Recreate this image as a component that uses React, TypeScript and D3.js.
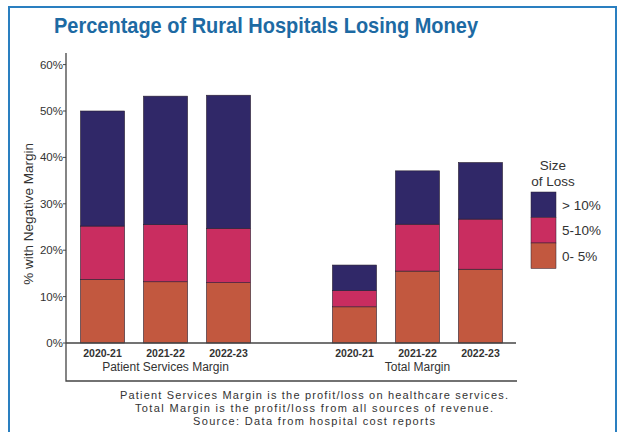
import React from "react";
import * as d3 from "d3";

// Share of rural hospitals with a negative margin, split by size of loss (%)
const groups = ["Patient Services Margin", "Total Margin"];
const years = ["2020-21", "2021-22", "2022-23"];
const lossBands = ["0- 5%", "5-10%", "> 10%"];

const patientServices0to5 = [13.7, 13.2, 13.0];
const patientServices5to10 = [11.5, 12.3, 11.7];
const patientServicesOver10 = [24.8, 27.7, 28.7];

const total0to5 = [7.8, 15.5, 15.9];
const total5to10 = [3.5, 10.1, 10.8];
const totalOver10 = [5.5, 11.5, 12.2];

const yTicks = [0, 10, 20, 30, 40, 50, 60];

const footnotes = [
  "Patient Services Margin is the profit/loss on healthcare services.",
  "Total Margin is the profit/loss from all sources of revenue.",
  "Source:  Data from hospital cost reports",
];

const bandColors: Record<string, string> = {
  "0- 5%": "#c2583f",
  "5-10%": "#c92d60",
  "> 10%": "#302868",
};

type Row = { group: string; year: string; [k: string]: string | number };

const rows: Row[] = [];
groups.forEach((g, gi) => {
  const a = gi === 0 ? patientServices0to5 : total0to5;
  const b = gi === 0 ? patientServices5to10 : total5to10;
  const c = gi === 0 ? patientServicesOver10 : totalOver10;
  years.forEach((y, i) => {
    rows.push({ group: g, year: y, "0- 5%": a[i], "5-10%": b[i], "> 10%": c[i] });
  });
});

const W = 619;
const H = 432;
const axisLeft = 66;
const axisRight = 516;
const baseY = 343;
const topY = 64.6;

export default function App() {
  const y = d3.scaleLinear().domain([0, 60]).range([baseY, topY]);
  const xGroup = d3
    .scaleBand<string>()
    .domain(groups)
    .range([axisLeft, axisRight + 1])
    .paddingInner(0.25)
    .paddingOuter(0.02);
  const xYear = d3
    .scaleBand<string>()
    .domain(years)
    .range([0, xGroup.bandwidth()])
    .paddingInner(0.3)
    .paddingOuter(0.15);

  const stack = d3.stack<Row>().keys(lossBands).value((d, k) => d[k] as number);
  const series = stack(rows);

  const font = "'Liberation Sans', Arial, sans-serif";

  return (
    <svg
      width={W}
      height={H}
      style={{ position: "absolute", left: 0, top: 0, background: "#fff" }}
      fontFamily={font}
    >
      {/* outer blue frame */}
      <path d="M9,440 V7 H616 V440" fill="none" stroke="#2a7fc0" strokeWidth={2} />

      <text
        x={266}
        y={33}
        textAnchor="middle"
        fontSize={22}
        fontWeight="bold"
        fill="#1d6aa3"
        textLength={424}
        lengthAdjust="spacingAndGlyphs"
      >
        Percentage of Rural Hospitals Losing Money
      </text>

      {/* bars */}
      {series.map((s) => (
        <g key={s.key} fill={bandColors[s.key]}>
          {s.map((d, i) => {
            const r = d.data;
            const x0 = (xGroup(r.group) ?? 0) + (xYear(r.year) ?? 0);
            return (
              <rect
                key={i}
                x={x0}
                y={y(d[1])}
                width={xYear.bandwidth()}
                height={y(d[0]) - y(d[1])}
                stroke="#2a2030"
                strokeWidth={0.6}
              />
            );
          })}
        </g>
      ))}

      {/* axis frame */}
      <path
        d={`M${axisLeft},53 V381 H${axisRight + 1}`}
        fill="none"
        stroke="#444"
        strokeWidth={1.3}
      />
      <line x1={axisLeft} x2={axisRight} y1={baseY} y2={baseY} stroke="#444" strokeWidth={1.3} />

      {yTicks.map((t) => (
        <g key={t}>
          <line x1={axisLeft - 3} x2={axisLeft} y1={y(t)} y2={y(t)} stroke="#444" />
          <text x={axisLeft - 3} y={y(t) + 4} textAnchor="end" fontSize={11.5} fill="#333">
            {t}%
          </text>
        </g>
      ))}

      <text
        transform={`translate(33,${(y(0) + y(60)) / 2 + 10}) rotate(-90)`}
        textAnchor="middle"
        fontSize={13.5}
        fill="#333"
      >
        % with Negative Margin
      </text>

      {rows.map((r, i) => (
        <text
          key={i}
          x={(xGroup(r.group) ?? 0) + (xYear(r.year) ?? 0) + xYear.bandwidth() / 2}
          y={357}
          textAnchor="middle"
          fontSize={10.5}
          fontWeight="bold"
          fill="#333"
        >
          {r.year}
        </text>
      ))}

      {groups.map((g) => (
        <text
          key={g}
          x={(xGroup(g) ?? 0) + xGroup.bandwidth() / 2}
          y={371}
          textAnchor="middle"
          fontSize={12}
          fill="#333"
        >
          {g}
        </text>
      ))}

      {/* legend */}
      <text x={553} y={170} textAnchor="middle" fontSize={13.5} fill="#333">
        Size
      </text>
      <text x={553} y={186} textAnchor="middle" fontSize={13.5} fill="#333">
        of Loss
      </text>
      {[...lossBands].reverse().map((b, i) => (
        <g key={b}>
          <rect
            x={531}
            y={192 + i * 25.5}
            width={25}
            height={25.5}
            fill={bandColors[b]}
            stroke="#2a2030"
            strokeWidth={0.5}
          />
          <text x={562} y={192 + i * 25.5 + 17.5} fontSize={13.5} fill="#333">
            {b}
          </text>
        </g>
      ))}

      {footnotes.map((f, i) => (
        <text
          key={i}
          x={314}
          y={399 + i * 13}
          textAnchor="middle"
          fontSize={11}
          fill="#333"
          textLength={[388, 358, 242][i]}
          lengthAdjust="spacing"
        >
          {f}
        </text>
      ))}
    </svg>
  );
}
